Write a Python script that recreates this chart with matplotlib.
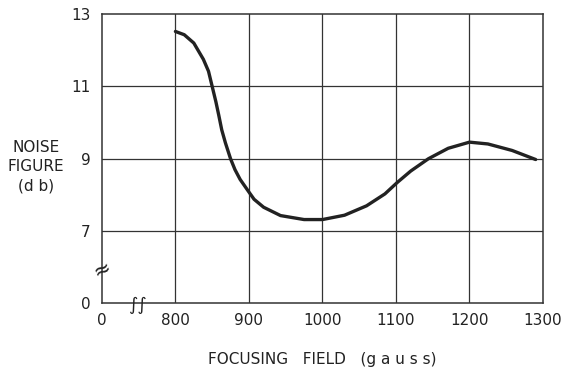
import matplotlib
matplotlib.use("Agg")
import matplotlib.pyplot as plt

# Focusing field (gauss) vs noise figure (db)
field = [800, 812, 825, 838, 845, 850, 855, 859, 863, 868, 875, 881, 888,
         900, 907, 920, 943, 975, 1000, 1030, 1060, 1085, 1102, 1120, 1144,
         1171, 1200, 1225, 1258, 1290]
noise = [12.52, 12.43, 12.2, 11.75, 11.42, 11.0, 10.58, 10.2, 9.8, 9.44,
         9.0, 8.7, 8.43, 8.08, 7.88, 7.66, 7.43, 7.32, 7.32, 7.44, 7.70, 8.03,
         8.35, 8.66, 9.0, 9.29, 9.46, 9.41, 9.23, 8.98]

# broken axes: "0" sits one grid step before the first real value
x_ticks = [700, 800, 900, 1000, 1100, 1200, 1300]
x_labels = ["0", "800", "900", "1000", "1100", "1200", "1300"]
y_ticks = [5, 7, 9, 11, 13]
y_labels = ["0", "7", "9", "11", "13"]
x_grid = [800, 900, 1000, 1100, 1200]
y_grid = [7, 9, 11]

ink = "#222222"

fig = plt.figure(figsize=(5.63, 3.71), dpi=100)
ax = fig.add_axes([0.181, 0.182, 0.7835, 0.780])

for xv in x_grid:
    ax.axvline(xv, color="#333333", lw=0.9, zorder=1)
for yv in y_grid:
    ax.axhline(yv, color="#333333", lw=0.9, zorder=1)

ax.plot(field, noise, color=ink, lw=2.4, solid_capstyle="round",
        solid_joinstyle="round", zorder=3)

ax.set_xlim(700, 1300)
ax.set_ylim(5, 13)
ax.set_xticks(x_ticks)
ax.set_xticklabels(x_labels)
ax.set_yticks(y_ticks)
ax.set_yticklabels(y_labels)
ax.tick_params(axis="both", length=0, labelsize=11, colors=ink)
ax.tick_params(axis="x", pad=7)
ax.tick_params(axis="y", pad=8)
for s in ax.spines.values():
    s.set_color("#333333")
    s.set_linewidth(1.1)

# axis break marks
ax.text(700, 5.95, "\u2248", rotation=25, ha="center", va="center",
        fontsize=15, color=ink, zorder=4)
ax.text(748, 4.95, "\u222b\u222b", ha="center", va="center", fontsize=13,
        color=ink, zorder=4)

ax.set_xlabel("FOCUSING   FIELD   (g a u s s)", fontsize=11, color=ink,
              labelpad=17)
fig.text(0.064, 0.55, "NOISE\nFIGURE\n(d b)", ha="center", va="center",
         fontsize=11, color=ink, linespacing=1.35)

fig.savefig("out.png", dpi=100, facecolor="white")
